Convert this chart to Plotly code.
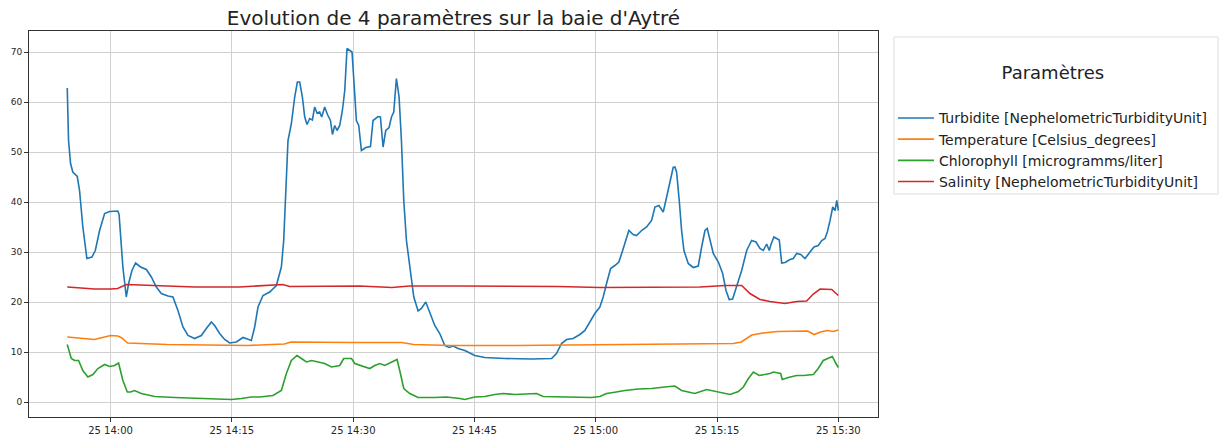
import pandas as pd
import plotly.graph_objects as go

# Time origin of the survey; offsets below are in minutes from 14:00
BASE = pd.Timestamp("2021-05-25 14:00:00")

turb_min = [-5.36, -5.20, -4.95, -4.67, -4.12, -3.84, -3.43, -2.93, -2.31, -1.89, -1.36, -0.74, -0.12,
            0.90, 1.05, 1.52, 1.94, 2.23, 2.64, 3.09, 3.71, 4.42, 5.04, 5.66, 6.27, 7.09, 7.71, 8.33,
            8.95, 9.57, 10.39, 11.22, 11.84, 12.46, 12.87, 13.49, 14.11, 14.73, 15.56, 16.37, 16.92,
            17.41, 17.82, 18.23, 18.85, 19.68, 20.50, 21.12, 21.41, 21.66, 21.94, 22.36, 22.77, 23.10,
            23.39, 23.72, 24.01, 24.29, 24.63, 24.96, 25.24, 25.53, 25.86, 26.11, 26.48, 26.82, 27.19,
            27.44, 27.72, 28.01, 28.34, 28.67, 28.96, 29.24, 29.58, 29.86, 30.11, 30.40, 30.69, 31.02,
            31.56, 32.14, 32.46, 33.08, 33.37, 33.70, 34.03, 34.44, 34.74, 35.02, 35.35, 35.68, 35.97,
            36.26, 36.59, 37.09, 37.50, 38.03, 38.45, 38.98, 39.48, 40.09, 40.71, 41.33, 41.86, 42.36,
            42.98, 43.81, 45.04, 46.28, 48.76, 52.06, 54.54, 55.15, 55.77, 56.39, 57.21, 58.04, 58.66,
            59.27, 59.89, 60.51, 60.92, 61.34, 61.84, 62.37, 62.86, 63.27, 63.69, 64.10, 64.63, 65.05,
            65.67, 66.29, 66.91, 67.32, 67.81, 68.35, 68.77, 69.18, 69.58, 69.79, 70.00, 70.33, 70.62,
            70.91, 71.44, 72.06, 72.68, 73.10, 73.51, 73.79, 74.13, 74.54, 75.16, 75.70, 76.11, 76.51,
            76.93, 77.43, 78.05, 78.67, 79.28, 79.82, 80.31, 80.72, 81.14, 81.46, 81.67, 82.04, 82.45,
            82.70, 83.00, 83.41, 84.03, 84.43, 84.85, 85.35, 85.88, 86.50, 86.99, 87.52, 87.95, 88.36,
            88.64, 88.98, 89.31, 89.60, 89.81, 90.01]
turb_val = [62.8, 52.3, 47.7, 46.0, 45.1, 42.3, 35.0, 28.7, 29.0, 30.3, 34.3, 37.7, 38.1,
            38.2, 37.5, 27.0, 21.0, 23.7, 26.3, 27.8, 27.0, 26.5, 25.0, 23.0, 21.7, 21.2, 21.0, 18.3,
            15.0, 13.3, 12.7, 13.3, 14.7, 16.0, 15.3, 13.7, 12.5, 11.8, 12.0, 12.9, 12.6,
            12.3, 15.0, 19.0, 21.3, 22.0, 23.3, 27.0, 32.3, 42.3, 52.3, 55.7, 61.0, 64.0,
            64.0, 61.0, 57.0, 55.5, 56.7, 56.4, 59.0, 57.8, 58.0, 57.0, 59.0, 57.5, 56.3,
            53.5, 55.3, 54.3, 55.3, 58.3, 62.3, 70.7, 70.4, 70.0, 63.7, 56.3, 55.3, 50.3,
            50.9, 51.1, 56.3, 57.1, 57.0, 51.0, 54.3, 54.9, 57.0, 58.0, 64.7, 61.0, 52.3,
            40.3, 32.3, 25.7, 21.0, 18.2, 18.7, 20.0, 17.7, 15.3, 13.7, 11.3, 10.9, 11.2,
            10.7, 10.3, 9.3, 8.9, 8.7, 8.6, 8.7, 9.7, 11.7, 12.5, 12.7, 13.5, 14.3,
            16.0, 17.7, 19.0, 21.0, 23.7, 26.7, 27.3, 28.0, 30.0, 32.3, 34.3, 33.5, 33.3,
            34.3, 35.0, 36.3, 39.0, 39.3, 38.0, 41.0, 44.3, 46.9, 47.0, 46.0, 40.3, 34.3,
            30.3, 27.7, 26.9, 27.2, 31.0, 34.3, 34.7, 32.3, 29.7, 28.0, 25.7, 22.3, 20.5,
            20.6, 23.0, 26.3, 30.3, 32.3, 32.0, 30.7, 30.3, 31.6, 30.3, 31.5, 33.0, 32.6,
            32.4, 27.8, 27.9, 28.5, 28.7, 29.7, 29.5, 28.7, 30.0, 31.0, 31.3, 32.3, 32.7,
            34.0, 36.3, 39.0, 38.3, 40.3, 38.3]

temp_min = [-5.36, -3.0, -2.0, -1.0, 0.0, 0.9, 1.4, 2.1, 7.0, 12.0, 17.0, 21.5, 22.3, 30.0, 36.0,
            37.5, 42.0, 50.0, 60.0, 70.0, 77.0, 78.0, 79.3, 80.7, 82.5, 86.2, 87.0, 87.8, 88.6,
            89.4, 90.0]
temp_val = [13.0, 12.6, 12.5, 12.9, 13.3, 13.2, 12.8, 11.8, 11.5, 11.4, 11.3, 11.6, 12.0, 11.9, 11.9,
            11.5, 11.3, 11.3, 11.4, 11.5, 11.7, 12.0, 13.4, 13.8, 14.1, 14.2, 13.5, 14.0, 14.3,
            14.1, 14.4]

chl_min = [-5.36, -4.86, -4.45, -3.96, -3.43, -2.81, -2.19, -1.57, -0.74, -0.12, 0.49, 0.99, 1.52,
           2.07, 2.47, 2.97, 3.80, 5.44, 7.92, 10.39, 12.87, 14.94, 16.17, 17.41, 18.44, 20.08,
           21.12, 21.74, 22.36, 23.05, 23.60, 24.22, 24.87, 25.65, 26.48, 27.31, 28.34, 28.83,
           29.79, 30.20, 31.02, 32.05, 32.67, 33.29, 33.91, 34.74, 35.43, 35.76, 36.26, 37.00,
           38.03, 40.09, 41.54, 43.19, 43.81, 45.04, 46.28, 47.52, 48.55, 49.99, 52.68, 53.50,
           56.18, 59.49, 60.51, 61.34, 62.16, 63.61, 65.25, 66.91, 68.55, 69.79, 70.62, 72.26,
           73.71, 75.16, 76.62, 77.64, 78.26, 78.88, 79.50, 80.22, 80.93, 81.55, 81.96, 82.87,
           83.07, 83.81, 84.85, 85.67, 86.91, 87.52, 88.14, 88.76, 89.26, 89.68, 90.0]
chl_val = [11.5, 8.7, 8.3, 8.3, 6.3, 5.0, 5.5, 6.7, 7.5, 7.1, 7.3, 7.8, 4.3,
           2.0, 2.0, 2.3, 1.7, 1.1, 0.9, 0.8, 0.7, 0.5, 0.7, 1.0, 1.0, 1.3,
           2.3, 5.7, 8.3, 9.3, 8.7, 8.0, 8.3, 8.0, 7.7, 7.0, 7.3, 8.7,
           8.7, 7.7, 7.3, 6.7, 7.3, 7.7, 7.3, 8.0, 8.5, 6.3, 2.7, 1.7,
           0.9, 0.9, 1.0, 0.7, 0.5, 1.0, 1.1, 1.5, 1.7, 1.5, 1.7, 1.1,
           1.0, 0.9, 1.1, 1.7, 1.9, 2.3, 2.6, 2.7, 3.0, 3.2, 2.3, 1.7,
           2.5, 2.0, 1.5, 2.1, 3.0, 4.7, 6.0, 5.3, 5.5, 5.7, 6.0, 5.7,
           4.5, 4.9, 5.3, 5.3, 5.5, 6.7, 8.3, 8.7, 9.1, 7.8, 6.9]

sal_min = [-5.36, -3.84, -1.98, 0.0, 0.87, 1.94, 4.83, 10.39, 15.96, 21.28, 22.15, 27.1, 30.8,
           34.8, 37.0, 43.2, 55.3, 60.5, 72.9, 75.98, 78.05, 79.07, 80.31, 81.55, 83.41, 84.85,
           86.09, 86.91, 87.74, 89.19, 89.60, 90.0]
sal_val = [23.0, 22.8, 22.6, 22.6, 22.7, 23.5, 23.3, 23.0, 23.0, 23.5, 23.1, 23.1, 23.2,
           22.9, 23.2, 23.2, 23.1, 22.9, 23.0, 23.3, 23.3, 21.7, 20.5, 20.1, 19.7, 20.1,
           20.2, 21.6, 22.6, 22.5, 21.8, 21.3]

series = [
    ("Turbidite [NephelometricTurbidityUnit]", turb_min, turb_val, "#1f77b4"),
    ("Temperature [Celsius_degrees]", temp_min, temp_val, "#ff7f0e"),
    ("Chlorophyll [microgramms/liter]", chl_min, chl_val, "#2ca02c"),
    ("Salinity [NephelometricTurbidityUnit]", sal_min, sal_val, "#d62728"),
]


def to_time(minutes):
    return BASE + pd.to_timedelta(minutes, unit="min")


fig = go.Figure()
for name, mins, vals, color in series:
    fig.add_trace(go.Scatter(
        x=to_time(mins), y=vals, mode="lines", name=name,
        line=dict(color=color, width=1.6),
    ))

FONT = "DejaVu Sans"
fig.update_layout(
    width=1224, height=437,
    margin=dict(l=29, r=346, t=31, b=20, autoexpand=False),
    paper_bgcolor="white", plot_bgcolor="white",
    font=dict(family=FONT, color="#262626"),
    title=dict(text="Evolution de 4 paramètres sur la baie d'Aytré",
               font=dict(family=FONT, size=20, color="#222222"),
               x=0.5, xref="paper", xanchor="center", y=0.958, yanchor="middle"),
    showlegend=True,
    legend=dict(
        x=1.0176, y=0.997, xanchor="left", yanchor="top",
        borderwidth=0, bgcolor="rgba(0,0,0,0)", itemwidth=36,
        font=dict(family=FONT, size=14, color="#222222"),
        title=dict(text="<br>Paramètres<br> ", side="top center",
                   font=dict(family=FONT, size=18, color="#222222")),
    ),
    # frame around the legend
    shapes=[dict(type="rect", xref="paper", yref="paper",
                 x0=1.0188, x1=1.4005, y0=0.5777, y1=0.9845,
                 line=dict(color="#dddddd", width=1), layer="below")],
)

fig.update_xaxes(
    range=[to_time(-10.09), to_time(94.91)], automargin=False,
    tickformat="%d %H:%M", tick0=to_time(0), dtick=15 * 60 * 1000,
    ticks="outside", ticklen=4, tickcolor="#333333",
    tickfont=dict(family=FONT, size=10, color="#262626"),
    showgrid=True, gridcolor="#d0d0d0", gridwidth=1,
    showline=True, linecolor="#333333", linewidth=1, mirror=True,
    zeroline=False,
)
fig.update_yaxes(
    range=[-3.0, 74.2], tick0=0, dtick=10, automargin=False,
    ticks="outside", ticklen=4, tickcolor="#333333",
    tickfont=dict(family=FONT, size=9, color="#262626"),
    showgrid=True, gridcolor="#d0d0d0", gridwidth=1,
    showline=True, linecolor="#333333", linewidth=1, mirror=True,
    zeroline=False,
)

fig.write_html("out.html")
